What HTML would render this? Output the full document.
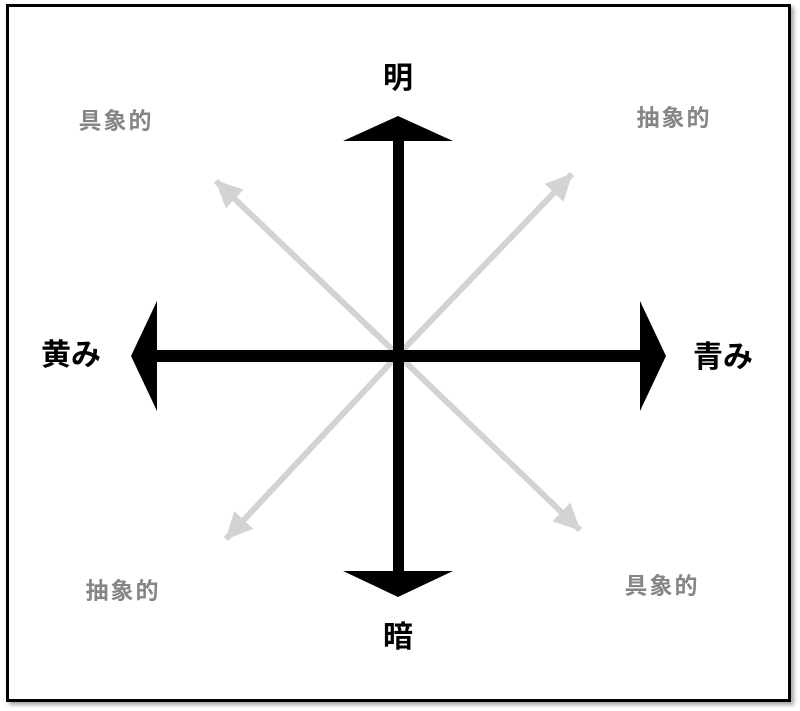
<!DOCTYPE html>
<html><head><meta charset="utf-8"><style>
html,body{margin:0;padding:0;background:#fff;}
body{width:800px;height:711px;position:relative;overflow:hidden;font-family:"Liberation Sans","Noto Sans CJK JP",sans-serif;}
.frame{position:absolute;left:6px;top:4px;width:779px;height:692px;border:3px solid #000;box-shadow:3px 3px 4px rgba(0,0,0,0.35);background:#fff;}
.t{position:absolute;font-weight:bold;white-space:nowrap;transform:translate(-50%,-50%);line-height:1;}
.b{font-size:30px;color:#000;}
.g{font-size:23px;color:#858585;letter-spacing:2px;}
</style></head><body>
<div class="frame"></div>
<svg width="800" height="711" style="position:absolute;left:0;top:0">
<defs>
<marker id="ga" markerUnits="userSpaceOnUse" markerWidth="30" markerHeight="28" refX="26" refY="13" orient="auto">
<path d="M0,0 L27,13 L0,26 Z" fill="#d3d3d3"/>
</marker>
</defs>
<g stroke="#d3d3d3" stroke-width="6" fill="none">
<line x1="398" y1="355" x2="216" y2="181" marker-end="url(#ga)"/>
<line x1="398" y1="355" x2="572" y2="174" marker-end="url(#ga)"/>
<line x1="398" y1="355" x2="226" y2="539" marker-end="url(#ga)"/>
<line x1="398" y1="355" x2="580" y2="530" marker-end="url(#ga)"/>
</g>
<rect x="393" y="138" width="11" height="435" fill="#000"/>
<rect x="154" y="350" width="489" height="12" fill="#000"/>
<path d="M398,116 L453,141 L343,141 Z" fill="#000"/>
<path d="M398,597 L453,571 L343,571 Z" fill="#000"/>
<path d="M131,356 L157,301 L157,411 Z" fill="#000"/>
<path d="M666,356 L640,301 L640,411 Z" fill="#000"/>
</svg>
<div class="t b" style="left:398px;top:79px">明</div>
<div class="t b" style="left:398px;top:638px">暗</div>
<div class="t b" style="left:71px;top:356px">黄み</div>
<div class="t b" style="left:723px;top:358px">青み</div>
<div class="t g" style="left:116px;top:121px">具象的</div>
<div class="t g" style="left:674px;top:118px">抽象的</div>
<div class="t g" style="left:123px;top:591px">抽象的</div>
<div class="t g" style="left:662px;top:586px">具象的</div>
</body></html>
